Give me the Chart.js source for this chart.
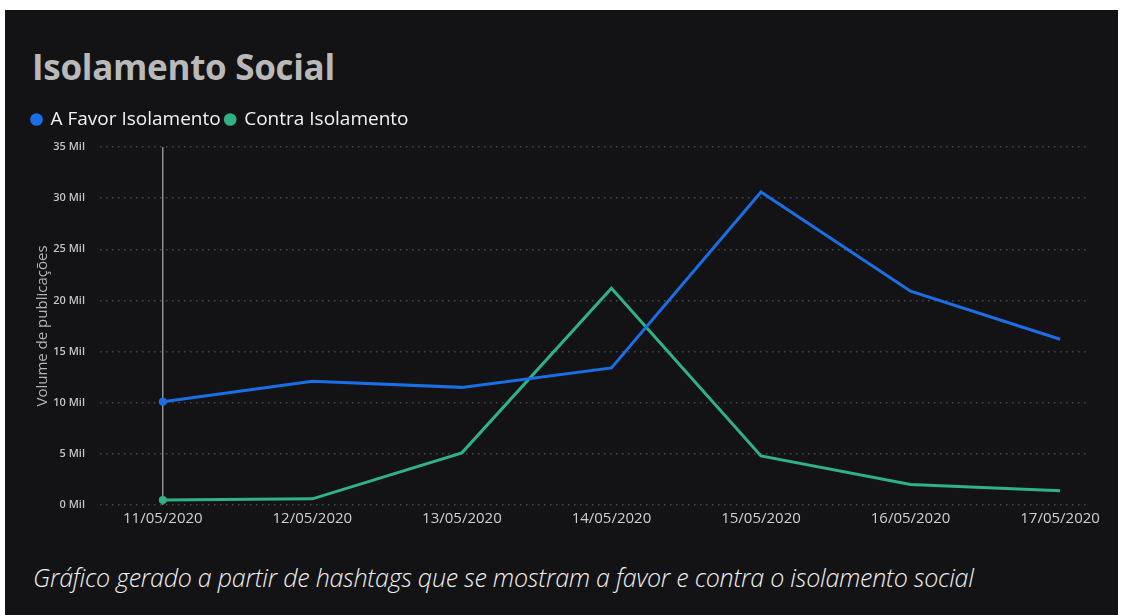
<!DOCTYPE html>
<html>
<head>
<meta charset="utf-8">
<script src="https://cdn.jsdelivr.net/npm/chart.js@4.4.1/dist/chart.umd.min.js"></script>
<style>
  html, body { margin: 0; padding: 0; background: #ffffff; }
  #panel {
    position: absolute; left: 5px; top: 10px; width: 1113px; height: 605px;
    background: #131315; overflow: hidden;
  }
  #title {
    position: absolute; left: 27px; top: 33px; margin: 0;
    font-family: "Open Sans", sans-serif; font-weight: 700; font-size: 35px;
    color: #b9b9b9; letter-spacing: -0.3px;
  }
  #chartBox { position: absolute; left: 0; top: 95px; width: 1113px; height: 437px; }
  #caption {
    position: absolute; left: 28px; top: 550px; margin: 0;
    font-family: "Open Sans", sans-serif; font-style: italic; font-weight: 300; font-size: 25px;
    color: #f0f0f0; letter-spacing: -0.25px;
  }
</style>
</head>
<body>
<div id="panel">
  <h1 id="title">Isolamento Social</h1>
  <div id="chartBox"><canvas id="myChart"></canvas></div>
  <p id="caption">Gráfico gerado a partir de hashtags que se mostram a favor e contra o isolamento social</p>
</div>
<script>
// dates on the x axis
const labels = ['11/05/2020', '12/05/2020', '13/05/2020', '14/05/2020', '15/05/2020', '16/05/2020', '17/05/2020'];
// volume of posts, in thousands ("Mil")
const favorData = [10.1, 12.1, 11.5, 13.4, 30.6, 20.9, 16.2];
const contraData = [0.5, 0.6, 5.1, 21.2, 4.8, 2.0, 1.4];
const yTicks = [0, 5, 10, 15, 20, 25, 30, 35];

const ctx = document.getElementById('myChart').getContext('2d');

const toPoints = (arr) => arr.map((v, i) => ({ x: i, y: v }));

// push the plot down a bit below the legend
const legendGap = {
    id: 'legendGap',
    beforeInit(chart) {
        const origFit = chart.legend.fit;
        chart.legend.fit = function () {
            origFit.bind(chart.legend)();
            this.height += 8;
        };
    }
};

const chart = new Chart(ctx, {
    type: 'line',
    data: {
        datasets: [
            {
                label: 'A Favor Isolamento',
                data: toPoints(favorData),
                borderColor: '#1b6fe6',
                backgroundColor: '#1b6fe6',
                borderWidth: 3,
                pointRadius: (c) => c.dataIndex === 0 ? 4 : 0,
                pointBorderWidth: 0,
                tension: 0
            },
            {
                label: 'Contra Isolamento',
                data: toPoints(contraData),
                borderColor: '#2fb386',
                backgroundColor: '#2fb386',
                borderWidth: 3,
                pointRadius: (c) => c.dataIndex === 0 ? 4 : 0,
                pointBorderWidth: 0,
                tension: 0
            }
        ]
    },
    options: {
        responsive: true,
        maintainAspectRatio: false,
        animation: false,
        layout: { padding: { left: 22, right: 31, top: 0, bottom: 0 } },
        plugins: {
            tooltip: { enabled: false },
            legend: {
                position: 'top',
                align: 'start',
                labels: {
                    color: '#f2f2f2',
                    font: { family: '"Open Sans", sans-serif', size: 19 },
                    usePointStyle: true,
                    pointStyle: 'circle',
                    boxWidth: 9,
                    boxHeight: 9,
                    padding: 5
                }
            }
        },
        scales: {
            x: {
                type: 'linear',
                min: -0.42,
                max: 6.18,
                afterFit: (s) => { s.height = 37; },
                ticks: {
                    stepSize: 1,
                    includeBounds: false,
                    autoSkip: false,
                    maxRotation: 0,
                    color: '#cfcfcf',
                    font: { family: '"Open Sans", sans-serif', size: 15 },
                    padding: 5,
                    callback: (v) => labels[v] ?? ''
                },
                grid: {
                    drawTicks: false,
                    color: (c) => c.tick && c.tick.value === 0 ? '#8c8c8c' : 'rgba(0,0,0,0)',
                    lineWidth: 1.5
                },
                border: { display: false }
            },
            y: {
                min: 0,
                max: 35,
                afterFit: (s) => { s.width = 73; },
                afterBuildTicks: (s) => { s.ticks = yTicks.map(v => ({ value: v })); },
                ticks: {
                    color: '#c4c4c4',
                    font: { family: '"Open Sans", sans-serif', size: 11, weight: '600' },
                    padding: 15,
                    callback: (v) => v + ' Mil'
                },
                title: {
                    display: true,
                    text: 'Volume de publicações',
                    color: '#b5b5b5',
                    font: { family: '"Open Sans", sans-serif', size: 15 },
                    padding: { top: 7, bottom: 0 }
                },
                grid: {
                    drawTicks: false,
                    color: '#48484a',
                    lineWidth: 1.5
                },
                border: { display: false, dash: [1.5, 4.5] }
            }
        }
    },
    plugins: [legendGap]
});
</script>
</body>
</html>
